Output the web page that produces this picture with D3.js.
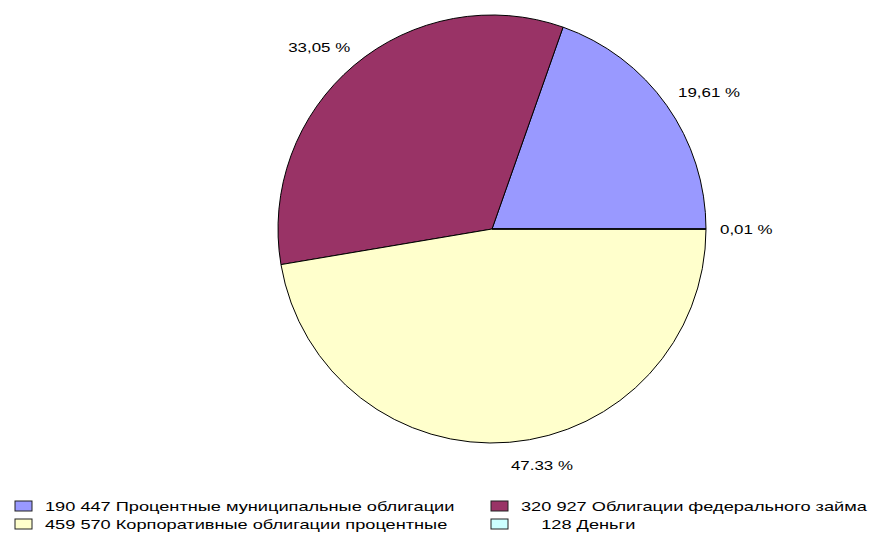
<!DOCTYPE html>
<html>
<head>
<meta charset="utf-8">
<script src="https://cdn.jsdelivr.net/npm/d3@7"></script>
<style>
  body { margin: 0; background: #fff; }
  text { font-family: "Liberation Sans", Arial, sans-serif; fill: #000; white-space: pre; }
</style>
</head>
<body>
<script>
// данные
const names = ["Процентные муниципальные облигации", "Облигации федерального займа",
  "Корпоративные облигации процентные", "Деньги"];
const values = [190447, 320927, 459570, 128];
const pctLabels = ["19,61 %", "33,05 %", "47.33 %", "0,01 %"];
const colors = ["#9999ff", "#993366", "#ffffcc", "#ccffff"];

const width = 870, height = 540;
const cx = 492, cy = 229, r = 214;
const sx = 1.3; // текст в оригинале растянут по горизонтали
const legSx = 1.4;

const svg = d3.select("body").append("svg")
  .attr("width", width).attr("height", height);

const pie = d3.pie().sort(null)
  .startAngle(Math.PI / 2)
  .endAngle(Math.PI / 2 - 2 * Math.PI);
const arcs = pie(values);
const arc = d3.arc().innerRadius(0).outerRadius(r);

const g = svg.append("g").attr("transform", `translate(${cx},${cy})`);
g.selectAll("path")
  .data(arcs)
  .join("path")
  .attr("d", arc)
  .attr("fill", (d, i) => colors[i])
  .attr("stroke", "#000")
  .attr("stroke-width", 1);

// подписи процентов
const R = r + 14, h = 18;
g.selectAll("text.pct")
  .data(arcs)
  .join("text")
  .attr("class", "pct")
  .attr("font-size", 13)
  .attr("dominant-baseline", "central")
  .attr("text-anchor", d => {
    let a = (d.startAngle + d.endAngle) / 2;
    return Math.sin(a) >= 0 ? "start" : "end";
  })
  .attr("transform", d => {
    let a = (d.startAngle + d.endAngle) / 2;
    let dx = Math.sin(a), dy = -Math.cos(a);
    let x = R * dx + (dx < 0 ? 5 : 0), y = R * dy + dy * h / 2;
    return `translate(${x},${y}) scale(${sx},1)`;
  })
  .text((d, i) => pctLabels[i]);

// легенда
const fmt = d3.formatLocale({ decimal: ",", thousands: " ", grouping: [3], currency: ["", ""] }).format(",d");
const colX = [15, 491], rowY = [506, 524];
const leg = svg.append("g")
  .selectAll("g")
  .data(names)
  .join("g")
  .attr("transform", (d, i) => `translate(${colX[i % 2]},${rowY[Math.floor(i / 2)]})`);
leg.append("rect")
  .attr("x", 0).attr("y", -5)
  .attr("width", 17).attr("height", 10)
  .attr("fill", (d, i) => colors[i])
  .attr("stroke", "#222")
  .attr("stroke-width", 1);
leg.append("text")
  .attr("font-size", 13)
  .attr("dominant-baseline", "central")
  .attr("transform", `translate(30,0) scale(${legSx},1)`)
  .text((d, i) => fmt(values[i]).padStart(7, " ") + " " + d);
</script>
</body>
</html>
